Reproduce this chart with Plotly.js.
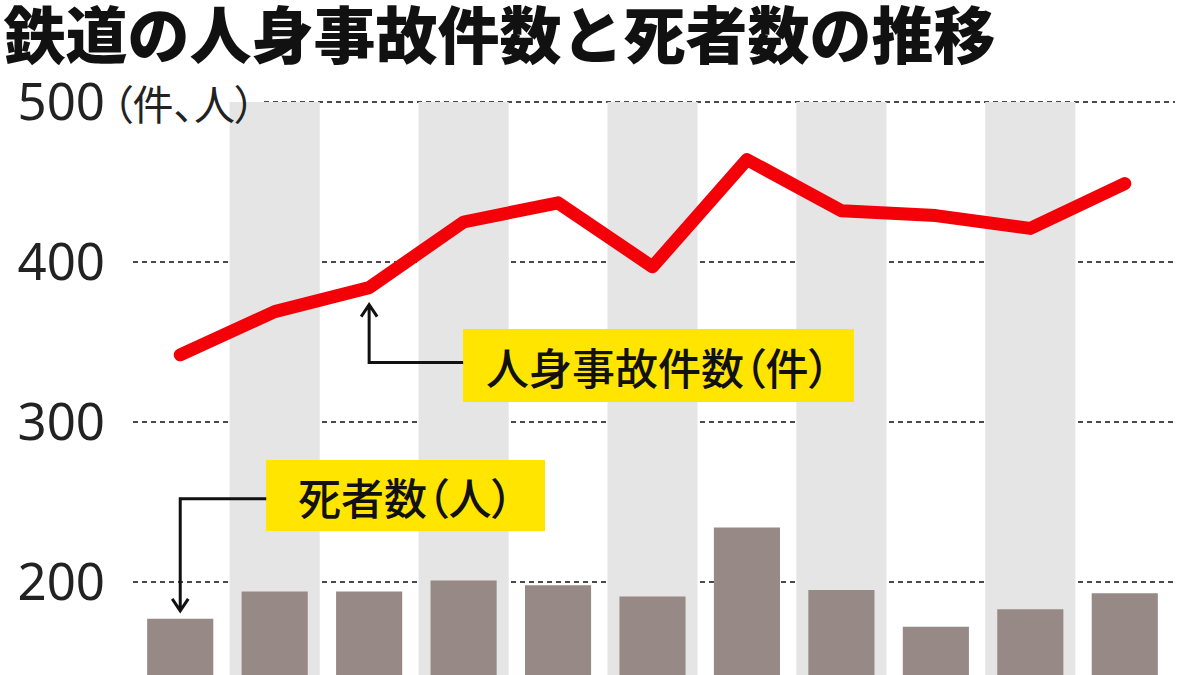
<!DOCTYPE html>
<html>
<head>
<meta charset="utf-8">
<script src="https://cdn.plot.ly/plotly-3.0.1.min.js"></script>
<style>
  html, body { margin: 0; padding: 0; background: #ffffff; }
  #chart { width: 1200px; height: 675px; }
  .scatterlayer .js-line { stroke-linecap: round; stroke-linejoin: round; }
  .annotation-text { font-feature-settings: "palt" 1; }
</style>
</head>
<body>
<div id="chart"></div>
<script>
// values (x labels are cut off in the original)
const periods = ['1', '2', '3', '4', '5', '6', '7', '8', '9', '10', '11'];
const accidents = [342, 369, 384, 425, 437, 397, 464, 432, 429, 421, 449];
const deaths = [177, 194, 194, 201, 198, 191, 234, 195, 172, 183, 193];
const yTicks = [200, 300, 400, 500];
const yTickText = ['200', '300', '400', '500'];

const W = 1200, H = 675;
const M = { l: 133, r: 28, t: 94, b: 0 };
const plotW = W - M.l - M.r;
const yTop = 505;
const yBottom = yTop - (H - M.t - M.b) / 1.6;
const px = v => (v - M.l) / plotW;   // page x -> paper fraction

const shapes = [];

// grey bands behind every second year
periods.forEach((p, i) => {
    if (i % 2 === 1) {
        shapes.push({
            type: 'rect', layer: 'below',
            xref: 'x', yref: 'y',
            x0: i - 0.477, x1: i + 0.477,
            y0: yBottom, y1: 500,
            fillcolor: '#e5e5e5',
            line: { width: 0 }
        });
    }
});

// dotted grid lines
yTicks.forEach(v => {
    shapes.push({
        type: 'line', layer: 'between',
        xref: 'paper', yref: 'y',
        x0: v === 500 ? px(264) : 0, x1: px(1175),
        y0: v, y1: v,
        line: { color: '#4a4a4a', width: 2.2, dash: '5px,4px' }
    });
});

// yellow label boxes
shapes.push({
    type: 'rect', xref: 'paper', yref: 'y',
    x0: px(463), x1: px(854), y0: 312.5, y1: 358.1,
    fillcolor: '#ffe500', line: { width: 0 }
});
shapes.push({
    type: 'rect', xref: 'paper', yref: 'y',
    x0: px(266), x1: px(545), y0: 231.9, y1: 276.3,
    fillcolor: '#ffe500', line: { width: 0 }
});

// elbow connectors with open arrowheads
shapes.push({
    type: 'path', xref: 'x', yref: 'y',
    xsizemode: 'pixel', ysizemode: 'pixel',
    xanchor: 2, yanchor: accidents[2],
    path: 'M94,-75 L0,-75 L0,-17 M-8,-29 L0,-17 L8,-29',
    line: { color: '#111111', width: 3 }
});
shapes.push({
    type: 'path', xref: 'x', yref: 'y',
    xsizemode: 'pixel', ysizemode: 'pixel',
    xanchor: 0, yanchor: deaths[0],
    path: 'M86,120 L0,120 L0,8 M-8,20 L0,8 L8,20',
    line: { color: '#111111', width: 3 }
});

const labelFont = { family: '"Noto Sans CJK JP", sans-serif', size: 43, color: '#111111', weight: 500 };

const annotations = [
    {
        xref: 'paper', yref: 'y', x: px(658), y: 335.3,
        xanchor: 'center', yanchor: 'middle',
        text: '人身事故件数（件）', showarrow: false, font: labelFont
    },
    {
        xref: 'paper', yref: 'y', x: px(405), y: 254,
        xanchor: 'center', yanchor: 'middle',
        text: '死者数（人）', showarrow: false, font: labelFont
    },
    {
        xref: 'paper', yref: 'y', x: px(110), y: 500,
        xanchor: 'left', yanchor: 'middle',
        text: '（件、人）', showarrow: false,
        font: { family: '"Noto Sans CJK JP", sans-serif', size: 41, color: '#222222' }
    }
];

const layout = {
    width: W, height: H,
    margin: M,
    paper_bgcolor: '#ffffff',
    plot_bgcolor: 'rgba(0,0,0,0)',
    showlegend: false,
    title: {
        text: '鉄道の人身事故件数と死者数の推移',
        xref: 'container', yref: 'container',
        x: 0.003, xanchor: 'left',
        y: 1 - 37 / H, yanchor: 'middle',
        pad: { t: 0, l: 0 },
        font: { family: '"Noto Sans CJK JP", sans-serif', size: 62, color: '#111111', weight: 900 }
    },
    xaxis: {
        type: 'category',
        range: [-0.5, periods.length - 0.5],
        showgrid: false, zeroline: false, showline: false,
        showticklabels: false, ticks: '', fixedrange: true
    },
    yaxis: {
        range: [yBottom, yTop],
        tickvals: yTicks, ticktext: yTickText,
        showgrid: false, zeroline: false, showline: false,
        ticks: '', ticklabelstandoff: 27,
        tickfont: { family: '"Noto Sans", sans-serif', size: 51, color: '#222222' },
        fixedrange: true
    },
    bargap: 0.3,
    shapes: shapes,
    annotations: annotations
};

Plotly.newPlot('chart', [
    {
        type: 'bar',
        x: periods,
        y: deaths,
        width: 0.7,
        marker: { color: '#978986', line: { width: 0 } },
        hoverinfo: 'y'
    },
    {
        type: 'scatter',
        mode: 'lines',
        x: periods,
        y: accidents,
        line: { color: '#f40008', width: 13 },
        hoverinfo: 'y'
    }
], layout, { displayModeBar: false, responsive: false });
</script>
</body>
</html>
